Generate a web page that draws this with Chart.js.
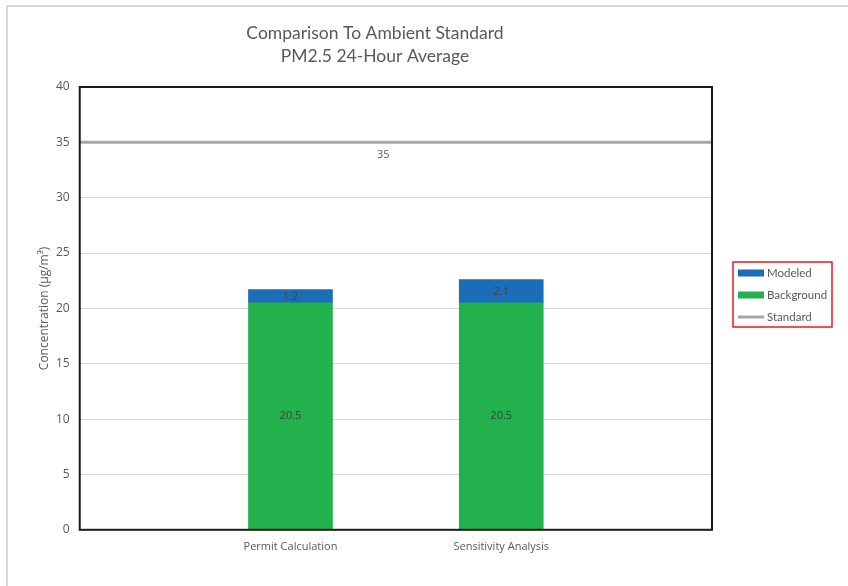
<!DOCTYPE html>
<html>
<head>
<meta charset="utf-8">
<script src="https://cdn.jsdelivr.net/npm/chart.js@4.4.1/dist/chart.umd.min.js"></script>
<style>
  html, body { margin: 0; padding: 0; background: #ffffff; }
  #wrap { position: relative; width: 848px; height: 586px; }
</style>
</head>
<body>
<div id="wrap"><canvas id="c" width="848" height="586"></canvas></div>
<script>
// ---- data ----
const categories = ['Permit Calculation', 'Sensitivity Analysis'];
const background = [20.5, 20.5];
const modeled = [1.2, 2.1];
const standardValue = 35;
const yTicks = [0, 5, 10, 15, 20, 25, 30, 35, 40];
const titleLines = ['Comparison To Ambient Standard', 'PM2.5 24-Hour Average'];
const yTitle = 'Concentration (\u00b5g/m\u00b3)';
const legendNames = ['Modeled', 'Background', 'Standard'];

// padded category axis so the two bars sit at 1/3 and 2/3 of the plot
const labels = [''].concat(categories, ['']);
const bgData = [null].concat(background, [null]);
const modData = [null].concat(modeled, [null]);
const stdData = labels.map(() => standardValue);

const COL_BLUE = '#1c6db8';
const COL_GREEN = '#22b14c';
const COL_STD = '#a6a6a6';
const TXT = '#595959';

const decorPlugin = {
  id: 'decor',
  beforeDraw(chart) {
    const ctx = chart.ctx;
    ctx.save();
    ctx.fillStyle = '#ffffff';
    ctx.fillRect(0, 0, chart.width, chart.height);
    ctx.strokeStyle = '#d9d9d9';
    ctx.lineWidth = 2;
    ctx.strokeRect(7, 6, 1000, 1000);
    ctx.restore();
  },
  afterDatasetsDraw(chart) {
    const ctx = chart.ctx;
    const a = chart.chartArea;
    const xs = chart.scales.x, ys = chart.scales.y;
    ctx.save();
    // plot border
    ctx.strokeStyle = '#1a1a1a';
    ctx.lineWidth = 2;
    ctx.strokeRect(a.left, a.top, a.right - a.left, a.bottom - a.top);

    // data labels in bars
    ctx.font = '11px "Open Sans", sans-serif';
    ctx.fillStyle = '#404040';
    ctx.textAlign = 'center';
    ctx.textBaseline = 'middle';
    for (let i = 0; i < categories.length; i++) {
      const xi = xs.getPixelForValue(i + 1);
      const b = background[i], m = modeled[i];
      ctx.fillText(String(b), xi, (ys.getPixelForValue(0) + ys.getPixelForValue(b)) / 2);
      ctx.fillText(String(m), xi, (ys.getPixelForValue(b) + ys.getPixelForValue(b + m)) / 2 + 1);
    }
    // standard label
    ctx.fillStyle = TXT;
    ctx.fillText(String(standardValue), xs.getPixelForValue(1.44), ys.getPixelForValue(standardValue) + 13);

    // y axis title
    ctx.save();
    ctx.translate(45, (a.top + a.bottom) / 2);
    ctx.rotate(-Math.PI / 2);
    ctx.font = '12px "Open Sans", sans-serif';
    ctx.fillStyle = TXT;
    ctx.fillText(yTitle, 0, 0);
    ctx.restore();

    // title
    ctx.font = '17.5px Lato, sans-serif';
    ctx.fillStyle = TXT;
    ctx.fillText(titleLines[0], 375, 33);
    ctx.fillText(titleLines[1], 375, 56);

    // legend
    const lx = 733, ly = 262, lw = 99, lh = 65;
    ctx.strokeStyle = '#e8191e';
    ctx.lineWidth = 1.5;
    ctx.strokeRect(lx, ly, lw, lh);
    const items = [
      { name: legendNames[0], color: COL_BLUE, type: 'box', y: 273 },
      { name: legendNames[1], color: COL_GREEN, type: 'box', y: 295 },
      { name: legendNames[2], color: COL_STD, type: 'line', y: 317 }
    ];
    ctx.font = '11.5px Lato, sans-serif';
    ctx.textAlign = 'left';
    items.forEach(it => {
      if (it.type === 'box') {
        ctx.fillStyle = it.color;
        ctx.fillRect(738, it.y - 3.5, 26, 7);
      } else {
        ctx.strokeStyle = it.color;
        ctx.lineWidth = 3;
        ctx.beginPath();
        ctx.moveTo(738, it.y);
        ctx.lineTo(764, it.y);
        ctx.stroke();
      }
      ctx.fillStyle = TXT;
      ctx.fillText(it.name, 767, it.y);
    });
    ctx.restore();
  }
};

new Chart(document.getElementById('c'), {
  type: 'bar',
  data: {
    labels: labels,
    datasets: [
      {
        type: 'line',
        label: legendNames[2],
        data: stdData,
        borderColor: COL_STD,
        borderWidth: 3,
        pointRadius: 0,
        stack: 'std',
        order: 0
      },
      {
        label: legendNames[1],
        data: bgData,
        backgroundColor: COL_GREEN,
        barThickness: 84,
        stack: 'bars',
        order: 1
      },
      {
        label: legendNames[0],
        data: modData,
        backgroundColor: COL_BLUE,
        barThickness: 84,
        stack: 'bars',
        order: 1
      }
    ]
  },
  options: {
    responsive: false,
    animation: false,
    layout: { padding: { top: 87, right: 136, bottom: 31, left: 46 } },
    plugins: {
      legend: { display: false },
      title: { display: false },
      tooltip: { enabled: false }
    },
    scales: {
      x: {
        stacked: true,
        offset: false,
        grid: { display: false },
        border: { display: false },
        ticks: {
          color: TXT,
          font: { family: '"Open Sans", sans-serif', size: 11 },
          maxRotation: 0,
          autoSkip: false,
          padding: 2
        }
      },
      y: {
        stacked: true,
        min: 0,
        max: 40,
        afterBuildTicks(scale) { scale.ticks = yTicks.map(v => ({ value: v })); },
        grid: { color: '#d9d9d9', lineWidth: 1, drawTicks: false },
        border: { display: false },
        ticks: {
          color: TXT,
          font: { family: '"Open Sans", sans-serif', size: 12 },
          padding: 10
        },
        title: { display: false }
      }
    }
  },
  plugins: [decorPlugin]
});
</script>
</body>
</html>
